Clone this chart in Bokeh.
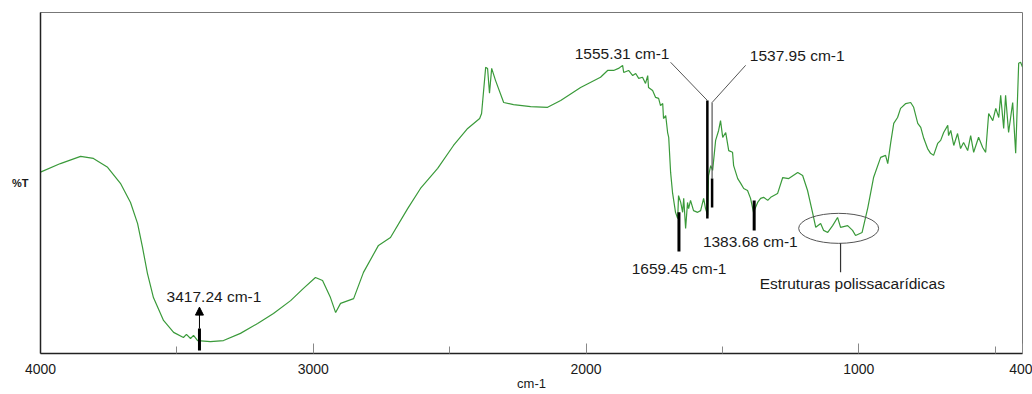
from bokeh.plotting import figure
from bokeh.models import Range1d, FixedTicker, Label, Arrow, NormalHead
from bokeh.embed import file_html
from bokeh.resources import INLINE

# ---- data ----
wavenumber = [
    4000, 3927, 3853, 3806, 3754, 3707, 3670, 3644, 3626, 3608,
    3586, 3549, 3512, 3476, 3465, 3450, 3439, 3424, 3377, 3329,
    3267, 3204, 3146, 3083, 3036, 2992, 2966, 2937, 2918, 2900,
    2852, 2816, 2761, 2717, 2654, 2607, 2544, 2486, 2434, 2390,
    2383, 2368, 2361, 2354, 2346, 2332, 2302, 2266, 2203, 2141,
    2093, 2020,
    1947, 1921, 1899, 1881, 1866, 1862, 1844, 1829, 1818, 1807,
    1793, 1782, 1774, 1771, 1756, 1745, 1734, 1727, 1719, 1716,
    1708, 1701, 1697, 1690, 1683, 1672, 1664, 1661, 1653, 1646,
    1642, 1635, 1628, 1624, 1617, 1606, 1591, 1580, 1569, 1562,
    1554, 1551, 1543, 1536, 1525, 1514, 1507, 1499, 1488, 1477,
    1463, 1459, 1444, 1433, 1422, 1408, 1397, 1386, 1371, 1360,
    1349, 1334, 1323,
    1298, 1279, 1257, 1224, 1206, 1188, 1169, 1158, 1140, 1129,
    1114, 1096, 1078, 1067, 1041, 1023, 1012, 988, 967, 946,
    920, 902, 894, 883, 872, 858, 847, 828, 810, 799,
    784, 773, 762, 748, 737, 726, 711, 700, 689, 674,
    671, 663, 652, 638, 627, 616, 601, 590, 579, 561,
    546, 535, 524, 509, 498, 487, 480, 469, 462, 451,
    436, 425, 414, 407, 400,
]
transmittance = [
    53.2, 55.7, 57.8, 57.2, 54.6, 49.9, 44.3, 38.1, 31.1, 23.5,
    16.4, 9.7, 6.2, 4.7, 5.6, 4.4, 5.3, 3.8, 3.5, 3.8,
    5.9, 8.8, 11.7, 15.5, 19.1, 22.3, 21.4, 16.4, 12.0, 14.7,
    16.1, 23.8, 31.7, 34.0, 42.5, 48.4, 54.3, 61.0, 66.0, 68.9,
    70.4, 83.9, 83.6, 76.3, 83.6, 80.1, 73.6, 73.0, 72.4, 72.2,
    74.2, 78.0,
    81.0, 83.0, 83.0, 83.6, 84.5, 82.4, 83.0, 81.5, 82.1, 80.7,
    81.0, 79.2, 81.5, 78.0, 77.1, 75.1, 74.8, 72.7, 73.3, 68.9,
    69.8, 64.8, 63.4, 53.1, 47.2, 41.4, 39.6, 46.3, 44.3, 41.4,
    45.5, 36.7, 44.3, 42.5, 44.9, 41.9, 41.4, 41.9, 45.5, 42.5,
    40.5, 52.2, 55.1, 53.7, 62.5, 65.4, 68.3, 63.4, 64.8, 59.5,
    59.0, 55.1, 51.3, 49.9, 48.4, 47.8, 45.5, 41.4, 44.3, 45.5,
    45.8, 44.9, 45.8,
    46.9, 51.6, 51.3, 53.1, 52.2, 47.8, 41.1, 37.0, 38.1, 36.1,
    35.5, 37.5, 39.9, 37.0, 37.5, 36.1, 34.6, 35.5, 42.8, 51.6,
    57.5, 58.1, 55.7, 61.9, 67.5, 69.2, 71.9, 73.3, 73.6, 72.2,
    67.5, 66.3, 63.1, 60.1, 58.7, 58.1, 61.6, 62.5, 64.8, 66.9,
    63.9, 65.4, 61.0, 64.5, 60.1, 61.9, 59.5, 63.9, 59.0, 63.4,
    60.4, 59.0, 70.4, 68.3, 71.9, 69.2, 75.7, 66.0, 75.7, 64.8,
    73.6, 58.7, 85.1, 85.4, 84.0,
]

x_ticks = [4000, 3000, 2000, 1000, 400]
x_tick_labels = ["4000", "3000", "2000", "1000", "400"]
x_minor_ticks = [3500, 2500, 1500, 500]

peak_wavenumbers = [3417.24, 1659.45, 1555.31, 1537.95, 1383.68]
peak_labels = ["3417.24 cm-1", "1659.45 cm-1", "1555.31 cm-1",
               "1537.95 cm-1", "1383.68 cm-1"]
region_label = "Estruturas polissacarídicas"
region_center = 1074
x_axis_title = "cm-1"
y_axis_title = "%T"

FONT = "Liberation Sans"
ANN = "15.5px"
TXT = "#1a1a1a"

p = figure(width=1032, height=394, output_backend="svg", toolbar_location=None,
           x_range=Range1d(4000, 400), y_range=Range1d(0, 100),
           min_border_left=40, min_border_right=10, min_border_top=12,
           min_border_bottom=41)
p.xgrid.visible = False
p.ygrid.visible = False
p.outline_line_color = "#777777"
p.outline_line_width = 1
p.background_fill_color = "white"
p.border_fill_color = "white"

xa = p.xaxis[0]
xa.ticker = FixedTicker(ticks=x_ticks, minor_ticks=x_minor_ticks)
xa.major_label_overrides = {t: l for t, l in zip(x_ticks, x_tick_labels)}
xa.major_tick_in = 10
xa.major_tick_out = 0
xa.minor_tick_in = 7
xa.minor_tick_out = 0
xa.major_tick_line_color = "#888888"
xa.minor_tick_line_color = "#888888"
xa.axis_line_color = "#222222"
xa.axis_line_width = 1.5
xa.major_label_text_font = FONT
xa.major_label_text_font_size = "14px"
xa.major_label_text_color = TXT
xa.major_label_standoff = 10
xa.axis_label = x_axis_title
xa.axis_label_text_font = FONT
xa.axis_label_text_font_size = "13px"
xa.axis_label_text_font_style = "normal"
xa.axis_label_text_color = TXT
xa.axis_label_standoff = -1

ya = p.yaxis[0]
ya.ticker = FixedTicker(ticks=[])
ya.major_tick_in = 0
ya.major_tick_out = 0
ya.minor_tick_in = 0
ya.minor_tick_out = 0
ya.axis_line_color = "#222222"
ya.axis_line_width = 1.5
ya.major_label_standoff = 0
ya.axis_label = y_axis_title
ya.axis_label_text_font = FONT
ya.axis_label_text_font_size = "11px"
ya.axis_label_text_font_style = "bold"
ya.axis_label_text_color = TXT
ya.axis_label_standoff = 12
try:
    ya.axis_label_orientation = "horizontal"
except Exception:
    pass

# spectrum
p.line(wavenumber, transmittance, line_color="#3a9a3a", line_width=1.2)

def label(x, y, text, align="center", baseline="middle", size=ANN, style="normal"):
    p.add_layout(Label(x=x, y=y, text=text, text_align=align, text_baseline=baseline,
                       text_font=FONT, text_font_size=size, text_color=TXT,
                       text_font_style=style))

# 3417.24 peak: bar + arrow
w0 = peak_wavenumbers[0]
p.segment(x0=[w0], y0=[0.9], x1=[w0], y1=[7.3], line_color="black", line_width=3)
p.add_layout(Arrow(end=NormalHead(size=8, fill_color="black", line_color="black"),
                   x_start=w0, y_start=7.3, x_end=w0, y_end=13.6,
                   line_color="black", line_width=1))
label(3364, 16.6, peak_labels[0])

# 1659.45 peak
w1 = peak_wavenumbers[1]
p.segment(x0=[w1], y0=[41.4], x1=[w1], y1=[29.9], line_color="black", line_width=3)
label(1659, 24.8, peak_labels[1])

# 1555.31 peak
w2 = peak_wavenumbers[2]
p.segment(x0=[w2], y0=[74.2], x1=[w2], y1=[39.6], line_color="black", line_width=2.5)
p.segment(x0=[1690], y0=[85.4], x1=[w2], y1=[74.2], line_color="#555555", line_width=1)
label(1868, 88.0, peak_labels[2])

# 1537.95 peak
w3 = peak_wavenumbers[3]
p.segment(x0=[w3], y0=[73.6], x1=[w3], y1=[51.3], line_color="#555555", line_width=1.2)
p.segment(x0=[w3], y0=[51.3], x1=[w3], y1=[42.8], line_color="black", line_width=2.5)
p.segment(x0=[w3], y0=[73.6], x1=[1415], y1=[84.5], line_color="#555555", line_width=1)
label(1226, 87.4, peak_labels[3])

# 1383.68 peak
w4 = peak_wavenumbers[4]
p.segment(x0=[w4], y0=[44.9], x1=[w4], y1=[36.1], line_color="black", line_width=3)
label(1398, 32.7, peak_labels[4])

# polysaccharide region
p.ellipse(x=[region_center], y=[36.7], width=293, height=8.8,
          fill_color=None, line_color="#555555", line_width=1)
p.segment(x0=[1067], y0=[32.3], x1=[1067], y1=[23.8], line_color="#333333", line_width=1.2)
label(1024, 20.4, region_label)

open("out.html", "w").write(file_html(p, INLINE))
